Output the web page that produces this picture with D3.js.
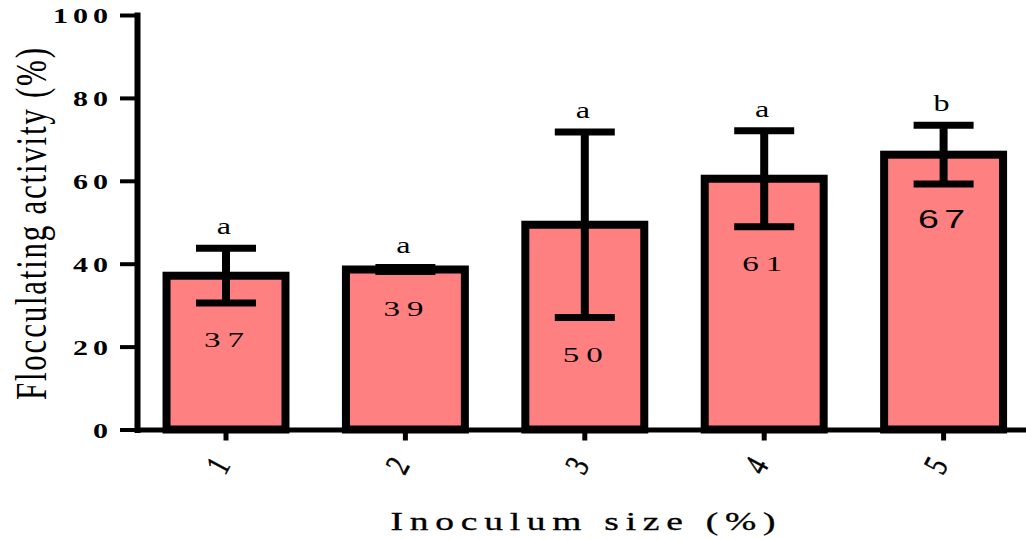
<!DOCTYPE html>
<html>
<head>
<meta charset="utf-8">
<script src="https://cdn.jsdelivr.net/npm/d3@7"></script>
<style>
  html, body { margin: 0; padding: 0; background: #fff; }
  svg { display: block; }
</style>
</head>
<body>
<svg id="chart" width="1026" height="540"></svg>
<script>
// data
const categories = ['1', '2', '3', '4', '5'];
const means = [37.1, 38.6, 49.4, 60.5, 66.3];
const sds = [6.6, 0.5, 22.4, 11.6, 7.1];
const valueLabels = ['37', '39', '50', '61', '67'];
const sigLetters = ['a', 'a', 'a', 'a', 'b'];
const yTicks = [0, 20, 40, 60, 80, 100];

const serif = '"Liberation Serif", "DejaVu Serif", serif';
const sans = '"Liberation Sans", Arial, sans-serif';
const stretch = 1.5;

const svg = d3.select('#chart');

const x = d3.scaleBand()
  .domain(categories)
  .range([136.3, 1033.3])
  .paddingInner(0.337)
  .paddingOuter(0.337 / 2);

const y = d3.scaleLinear().domain([0, 100]).range([429.5, 15]);

// bars
svg.append('g')
  .selectAll('rect')
  .data(means)
  .join('rect')
  .attr('x', (d, i) => x(categories[i]))
  .attr('y', (d) => y(d))
  .attr('width', x.bandwidth())
  .attr('height', (d) => y(0) - y(d))
  .attr('fill', '#ff8080')
  .attr('stroke', '#000')
  .attr('stroke-width', 8);

// error bars
const err = svg.append('g').attr('stroke', '#000');
for (let i = 0; i < means.length; i++) {
  let cx = x(categories[i]) + x.bandwidth() / 2;
  let hi = y(means[i] + sds[i]);
  let lo = y(means[i] - sds[i]);
  err.append('line').attr('x1', cx).attr('x2', cx).attr('y1', hi).attr('y2', lo).attr('stroke-width', 8);
  err.append('line').attr('x1', cx - 30).attr('x2', cx + 30).attr('y1', hi).attr('y2', hi).attr('stroke-width', 7);
  err.append('line').attr('x1', cx - 30).attr('x2', cx + 30).attr('y1', lo).attr('y2', lo).attr('stroke-width', 7);
}

// significance letters
svg.append('g')
  .selectAll('text')
  .data(sigLetters)
  .join('text')
  .attr('transform', (d, i) => {
    let cx = x(categories[i]) + x.bandwidth() / 2 - 2;
    return 'translate(' + cx + ',' + (y(means[i] + sds[i]) - 14) + ') scale(1.4,1)';
  })
  .attr('text-anchor', 'middle')
  .attr('font-family', serif)
  .attr('font-size', 23)
  .text((d) => d);

// value labels inside the bars
svg.append('g')
  .selectAll('text')
  .data(valueLabels)
  .join('text')
  .attr('transform', (d, i) => {
    let cx = x(categories[i]) + x.bandwidth() / 2 - 2;
    return 'translate(' + cx + ',' + (y(means[i] - sds[i]) + 44) + ') scale(' + stretch + ',1)';
  })
  .attr('text-anchor', 'middle')
  .attr('font-family', (d, i) => (i === 4 ? sans : serif))
  .attr('font-size', (d, i) => (i === 4 ? 25 : 22))
  .attr('textLength', (d, i) => (i === 4 ? 47 : 40) / stretch)
  .attr('lengthAdjust', 'spacing')
  .text((d) => d);

// y axis
const yAxis = svg.append('g')
  .attr('transform', 'translate(137,0)')
  .call(d3.axisLeft(y).tickValues(yTicks).tickSize(17).tickSizeOuter(0));

yAxis.select('.domain').attr('stroke-width', 6).attr('stroke-linecap', 'square');
yAxis.selectAll('.tick line').attr('stroke-width', 4);
yAxis.selectAll('.tick text')
  .attr('x', null)
  .attr('dy', '0.38em')
  .attr('transform', 'translate(-29,0) scale(' + stretch + ',1)')
  .attr('text-anchor', 'end')
  .attr('font-family', serif)
  .attr('font-weight', 'bold')
  .attr('font-size', 20)
  .attr('textLength', (d) => (String(d).length * 20 - 5) / stretch)
  .attr('lengthAdjust', 'spacing')
  .attr('fill', '#000');

// x axis
const xAxis = svg.append('g')
  .attr('transform', 'translate(0,' + y(0) + ')')
  .call(d3.axisBottom(x).tickSize(11).tickSizeOuter(0));

xAxis.select('.domain').attr('stroke-width', 5);
xAxis.selectAll('.tick line').attr('stroke-width', 5);
xAxis.selectAll('.tick text')
  .attr('y', null)
  .attr('dy', null)
  .attr('transform', 'translate(-8,36) rotate(-62) scale(1,1.35)')
  .attr('text-anchor', 'middle')
  .attr('dominant-baseline', 'central')
  .attr('font-family', serif)
  .attr('font-size', 25)
  .attr('stroke', '#000')
  .attr('stroke-width', 0.4)
  .attr('fill', '#000');

// axis titles
svg.append('text')
  .attr('transform', 'translate(583,530) scale(' + stretch + ',1)')
  .attr('text-anchor', 'middle')
  .attr('font-family', serif)
  .attr('font-size', 25)
  .attr('stroke', '#000')
  .attr('stroke-width', 0.3)
  .attr('textLength', 385 / stretch)
  .attr('lengthAdjust', 'spacing')
  .text('Inoculum size (%)');

svg.append('text')
  .attr('transform', 'translate(46,224) rotate(-90) scale(1,1.45)')
  .attr('text-anchor', 'middle')
  .attr('font-family', serif)
  .attr('font-size', 31)
  .attr('textLength', 352)
  .attr('lengthAdjust', 'spacing')
  .text('Flocculating activity (%)');
</script>
</body>
</html>
